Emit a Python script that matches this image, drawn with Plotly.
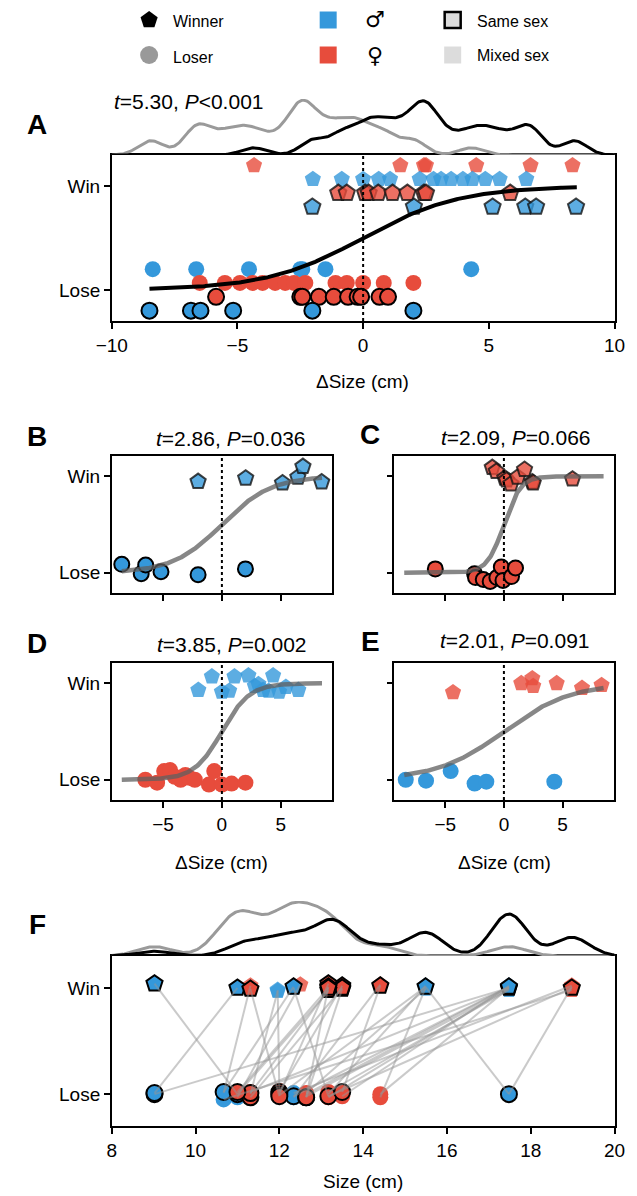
import numpy as np
import plotly.graph_objects as go

# ---------------- data ----------------
# Delta size (cm) = own size - opponent size, by contest type
ms_win = [-2.02, 2.02, 5.15, 6.45, 6.88, 8.47]            # male vs male: winners
ms_lose = [-8.5, -6.85, -6.47, -5.17, -2.02, 2.0]          # male vs male: losers
fs_win = [-0.99, -0.65, 0.08, 0.22, 0.6, 1.17, 1.76, 2.42, 2.5, 5.85]      # female vs female: winners
fs_lose = [-5.85, -2.5, -2.42, -1.76, -1.17, -0.6, -0.22, -0.08, 0.65, 0.99]  # female vs female: losers
mf_win = [-2.0, -0.85, 0.0, 0.62, 1.07, 2.25, 2.8, 3.1, 3.5, 3.97, 4.35, 4.86, 5.43, 6.49]   # male beat female (male winners)
mf_lose = [-6.5, -5.5, -4.9, -4.4, -4.0, -3.5, -3.1, -2.75, -2.3, -1.1, -0.65, 0.0, 0.82, 2.0]  # female losers to males
fm_win = [-4.34, 1.48, 2.42, 2.5, 4.5, 6.66, 8.33]         # female beat male (female winners)
fm_lose = [-8.37, -6.64, -4.54, -2.5, -2.42, -1.5, 4.3]    # male losers to females

# vertical jitter of the points in panels B-E (outcome units)
b_win_jit = [-0.055, -0.02, -0.07, -0.01, 0.10, -0.06]
b_lose_jit = [0.087, -0.01, 0.08, 0.01, -0.02, 0.04]
c_win_jit = [0.09, 0.05, -0.02, -0.04, -0.08, -0.01, 0.07, -0.06, -0.07, -0.03]
c_lose_jit = [0.04, -0.01, -0.05, -0.07, -0.09, -0.05, 0.06, -0.08, -0.04, 0.05]
d_win_jit = [-0.07, 0.07, -0.09, -0.08, 0.07, 0.08, -0.03, -0.01, -0.07, -0.08, 0.08, -0.09, -0.04, -0.07]
d_lose_jit = [0.0, -0.03, 0.09, 0.1, 0.03, 0.0, 0.05, 0.02, 0.0, -0.05, 0.09, -0.05, -0.04, -0.03]
e_win_jit = [-0.095, 0.0, 0.05, -0.03, 0.0, -0.05, -0.02]
e_lose_jit = [0.0, -0.01, 0.09, -0.04, -0.03, -0.02, -0.02]

# logistic fits: (intercept, slope) per panel
fit_params = {"A": (0.0, 0.52), "B": (0.0, 0.48), "C": (0.0, 1.4), "D": (0.0, 0.85), "E": (0.0, 0.35)}
fit_xrange = [-8.5, 8.5]

stats = {
    "A": "<i>t</i>=5.30, <i>P</i>&lt;0.001",
    "B": "<i>t</i>=2.86, <i>P</i>=0.036",
    "C": "<i>t</i>=2.09, <i>P</i>=0.066",
    "D": "<i>t</i>=3.85, <i>P</i>=0.002",
    "E": "<i>t</i>=2.01, <i>P</i>=0.091",
}

# Panel F: individual contests (winner size, loser size, sexes, same-sex?)
f_win_size = [15.49, 17.48, 11.0, 9.02, 17.48, 12.34,                                    # male vs male
              18.98, 14.41, 13.5, 13.5, 13.5, 13.17, 13.17, 13.17, 13.17, 11.31,          # female vs female
              11.96, 11.96, 12.34, 15.49, 15.49, 15.49, 15.49, 17.48, 17.48, 17.48, 17.48, 17.48, 17.48, 17.48,  # male beat female
              18.98, 18.98, 18.98, 14.41, 12.5, 11.31, 13.17]                             # female beat male
f_lose_size = [17.48, 9.02, 9.02, 11.0, 12.34, 10.67,
               13.17, 13.5, 12.64, 12.0, 11.31, 12.0, 11.31, 12.64, 11.0, 12.0,
               11.31, 12.0, 13.17, 14.41, 13.17, 12.64, 12.0, 14.41, 13.5, 13.17, 13.17, 12.64, 12.64, 11.31,
               17.48, 10.67, 12.34, 12.34, 11.0, 10.67, 11.0]
f_win_sex = ["M"] * 6 + ["F"] * 10 + ["M"] * 14 + ["F"] * 7
f_lose_sex = ["M"] * 6 + ["F"] * 10 + ["F"] * 14 + ["M"] * 7
f_same = [True] * 16 + [False] * 21
f_win_jit = [0.01, 0.0, 0.0, 0.04, 0.01, 0.01, 0.0, 0.02, -0.01, 0.02, 0.0, 0.04, -0.02, 0.01, 0.0, -0.01,
             -0.03, -0.02, 0.0, 0.0, 0.02, -0.01, 0.01, 0.0, 0.02, -0.02, 0.0, 0.01, -0.01, 0.0,
             0.01, -0.02, 0.02, 0.03, 0.03, 0.02, -0.03]
f_lose_jit = [0.0, 0.0, 0.01, 0.0, -0.02, 0.02, -0.02, 0.02, -0.03, 0.02, -0.03, 0.0, 0.01, -0.03, 0.02, -0.02,
              0.0, 0.03, -0.02, -0.03, 0.0, 0.01, -0.01, 0.0, -0.02, 0.02, -0.03, 0.0, -0.02, 0.02,
              0.0, -0.05, 0.01, -0.03, -0.03, 0.01, 0.0]

# ---------------- styling ----------------
W, H = 637, 1196
FONT = "Liberation Sans, Arial, Helvetica, sans-serif"
BLUE = "rgb(52,152,219)"
RED = "rgb(231,76,60)"
BLUE_A = "rgba(52,152,219,0.8)"
RED_A = "rgba(231,76,60,0.8)"
EDGE_P = "rgba(20,20,20,0.8)"
GRAYLINE = "rgba(95,95,95,0.75)"
row_off = {"fm": 0.2, "mf": 0.067, "fs": -0.067, "ms": -0.2}   # panel A row offsets
TICK = 19


def xdom(a, b):
    return [a / W, b / W]


def ydom(top, bot):
    return [1 - bot / H, 1 - top / H]


def kde(data, grid, bw):
    d = np.asarray(data, float)[:, None]
    return np.exp(-0.5 * ((grid[None, :] - d) / bw) ** 2).sum(0) / (len(data) * bw * np.sqrt(2 * np.pi))


def logistic(a, b, x):
    return 1.0 / (1.0 + np.exp(-(a + b * x)))


fig = go.Figure()


def add_pts(x, y, symbol, fill, edge, ew, size, xa, ya):
    fig.add_trace(go.Scatter(
        x=list(x), y=list(y), mode="markers", xaxis=xa, yaxis=ya, showlegend=False, hoverinfo="skip",
        marker=dict(symbol=symbol, size=size, color=fill,
                    line=dict(color=edge if edge else "rgba(0,0,0,0)", width=ew if edge else 0))))


def add_curve(key, xa, ya, color, width):
    a, b = fit_params[key]
    xs = np.linspace(fit_xrange[0], fit_xrange[1], 300)
    fig.add_trace(go.Scatter(x=xs, y=logistic(a, b, xs), mode="lines", xaxis=xa, yaxis=ya,
                             line=dict(color=color, width=width), showlegend=False, hoverinfo="skip"))


def at(base, vals, off):
    return [base + off for _ in vals]


def jit(base, js):
    return [base + j for j in js]


# ---------------- Panel A ----------------
add_pts(fm_lose, at(0, fm_lose, row_off["fm"]), "circle", BLUE, None, 0, 16, "x", "y")
add_pts(mf_lose, at(0, mf_lose, row_off["mf"]), "circle", RED, None, 0, 16, "x", "y")
add_pts(fs_lose, at(0, fs_lose, row_off["fs"]), "circle", RED, "black", 2, 16, "x", "y")
add_pts(ms_lose, at(0, ms_lose, row_off["ms"]), "circle", BLUE, "black", 2, 16, "x", "y")
add_pts(fm_win, at(1, fm_win, row_off["fm"]), "pentagon", RED_A, None, 0, 17, "x", "y")
add_pts(mf_win, at(1, mf_win, row_off["mf"]), "pentagon", BLUE_A, None, 0, 17, "x", "y")
add_pts(fs_win, at(1, fs_win, row_off["fs"]), "pentagon", RED_A, EDGE_P, 2, 17, "x", "y")
add_pts(ms_win, at(1, ms_win, row_off["ms"]), "pentagon", BLUE_A, EDGE_P, 2, 17, "x", "y")
add_curve("A", "x", "y", "black", 4)

# density A
all_win = ms_win + fs_win + mf_win + fm_win
all_lose = ms_lose + fs_lose + mf_lose + fm_lose
gA = np.linspace(-10, 10, 400)
dA_w = kde(all_win, gA, 0.5)
dA_l = kde(all_lose, gA, 0.5)
dA_max = max(dA_w.max(), dA_l.max())
fig.add_trace(go.Scatter(x=gA, y=dA_l, mode="lines", xaxis="x2", yaxis="y2",
                         line=dict(color="#9a9a9a", width=3), showlegend=False, hoverinfo="skip"))
fig.add_trace(go.Scatter(x=gA, y=dA_w, mode="lines", xaxis="x2", yaxis="y2",
                         line=dict(color="black", width=3), showlegend=False, hoverinfo="skip"))

# ---------------- Panels B-E ----------------
add_pts(ms_lose, jit(0, b_lose_jit), "circle", BLUE, "black", 2, 15, "x3", "y3")
add_pts(ms_win, jit(1, b_win_jit), "pentagon", BLUE_A, EDGE_P, 2, 16, "x3", "y3")
add_curve("B", "x3", "y3", GRAYLINE, 4.5)

add_pts(fs_lose, jit(0, c_lose_jit), "circle", RED, "black", 2, 15, "x4", "y4")
add_pts(fs_win, jit(1, c_win_jit), "pentagon", RED_A, EDGE_P, 2, 16, "x4", "y4")
add_curve("C", "x4", "y4", GRAYLINE, 4.5)

add_pts(mf_lose, jit(0, d_lose_jit), "circle", RED, None, 0, 16, "x5", "y5")
add_pts(mf_win, jit(1, d_win_jit), "pentagon", BLUE_A, None, 0, 17, "x5", "y5")
add_curve("D", "x5", "y5", GRAYLINE, 4.5)

add_pts(fm_lose, jit(0, e_lose_jit), "circle", BLUE, None, 0, 16, "x6", "y6")
add_pts(fm_win, jit(1, e_win_jit), "pentagon", RED_A, None, 0, 17, "x6", "y6")
add_curve("E", "x6", "y6", GRAYLINE, 4.5)

# ---------------- Panel F ----------------
col = {"M": BLUE, "F": RED}
cola = {"M": BLUE_A, "F": RED_A}
for same in (False, True):
    for sex in ("M", "F"):
        idx = [i for i in range(len(f_same)) if f_same[i] == same and f_lose_sex[i] == sex]
        if idx:
            add_pts([f_lose_size[i] for i in idx], [0 + f_lose_jit[i] for i in idx], "circle", col[sex],
                    "black" if same else None, 2, 16, "x7", "y7")
        idx = [i for i in range(len(f_same)) if f_same[i] == same and f_win_sex[i] == sex]
        if idx:
            add_pts([f_win_size[i] for i in idx], [1 + f_win_jit[i] for i in idx], "pentagon",
                    col[sex] if same else cola[sex], "black" if same else None, 2, 17, "x7", "y7")
lx, ly = [], []
for i in range(len(f_same)):
    lx += [f_win_size[i], f_lose_size[i], None]
    ly += [1 + f_win_jit[i], 0 + f_lose_jit[i], None]
fig.add_trace(go.Scatter(x=lx, y=ly, mode="lines", xaxis="x7", yaxis="y7",
                         line=dict(color="rgba(150,150,150,0.5)", width=2), showlegend=False, hoverinfo="skip"))

gF = np.linspace(8, 20, 400)
dF_w = kde(f_win_size, gF, 0.42)
dF_l = kde(f_lose_size, gF, 0.42)
dF_max = max(dF_w.max(), dF_l.max())
fig.add_trace(go.Scatter(x=gF, y=dF_l, mode="lines", xaxis="x8", yaxis="y8",
                         line=dict(color="#9a9a9a", width=3), showlegend=False, hoverinfo="skip"))
fig.add_trace(go.Scatter(x=gF, y=dF_w, mode="lines", xaxis="x8", yaxis="y8",
                         line=dict(color="black", width=3), showlegend=False, hoverinfo="skip"))

# ---------------- legend (drawn in a pixel-space axis) ----------------
leg_items = [
    (139, 20, "pentagon", "black", None, 18),
    (139, 55, "circle", "#999999", None, 18),
    (326, 20, "square", BLUE, None, 17),
    (326, 55, "square", RED, None, 17),
    (456, 20, "square", "#dcdcdc", "black", 16),
    (456, 55, "square", "#dcdcdc", None, 17),
]
for (px, py, sym, fc, ec, sz) in leg_items:
    add_pts([px], [py], sym, fc, ec, 2.5, sz, "x9", "y9")

# ---------------- axes ----------------
def frame(**kw):
    d = dict(showline=True, linecolor="black", linewidth=1.5, mirror=True, ticks="outside", ticklen=6,
             tickwidth=1.5, tickcolor="black", showgrid=False, zeroline=False,
             tickfont=dict(size=TICK, color="black", family=FONT))
    d.update(kw)
    return d


hidden = dict(visible=False, showgrid=False, zeroline=False)
dx_range = [-9.35, 9.35]
yt = dict(tickvals=[0, 1], ticktext=["Lose", "Win"])

fig.update_layout(
    width=W, height=H, margin=dict(l=0, r=0, t=0, b=0),
    paper_bgcolor="white", plot_bgcolor="rgba(0,0,0,0)",
    font=dict(family=FONT, color="black", size=TICK),
    xaxis=frame(domain=xdom(100, 625), range=[-10, 10], tickvals=[-10, -5, 0, 5, 10], anchor="y"),
    yaxis=frame(domain=ydom(155, 321), range=[-0.3, 1.3], anchor="x", **yt),
    xaxis2=dict(domain=xdom(100, 625), matches="x", anchor="y2", **hidden),
    yaxis2=dict(domain=ydom(99, 155), range=[0, dA_max * 1.02], anchor="x2", **hidden),
    xaxis3=frame(domain=xdom(100, 330), range=dx_range, tickvals=[-5, 0, 5], showticklabels=False, anchor="y3"),
    yaxis3=frame(domain=ydom(456, 593), range=[-0.21, 1.21], anchor="x3", **yt),
    xaxis4=frame(domain=xdom(395, 624), range=dx_range, tickvals=[-5, 0, 5], showticklabels=False, anchor="y4"),
    yaxis4=frame(domain=ydom(456, 593), range=[-0.21, 1.21], anchor="x4", showticklabels=False, **yt),
    xaxis5=frame(domain=xdom(100, 330), range=dx_range, tickvals=[-5, 0, 5], anchor="y5"),
    yaxis5=frame(domain=ydom(663, 800), range=[-0.21, 1.21], anchor="x5", **yt),
    xaxis6=frame(domain=xdom(395, 624), range=dx_range, tickvals=[-5, 0, 5], anchor="y6"),
    yaxis6=frame(domain=ydom(663, 800), range=[-0.21, 1.21], anchor="x6", showticklabels=False, **yt),
    xaxis7=frame(domain=xdom(100, 625), range=[8, 20], tickvals=[8, 10, 12, 14, 16, 18, 20], anchor="y7"),
    yaxis7=frame(domain=ydom(956, 1126), range=[-0.3, 1.3], anchor="x7", **yt),
    xaxis8=dict(domain=xdom(100, 625), matches="x7", anchor="y8", **hidden),
    yaxis8=dict(domain=ydom(901, 956), range=[0, dF_max * 1.02], anchor="x8", **hidden),
    xaxis9=dict(domain=[0, 1], range=[0, W], anchor="y9", **hidden),
    yaxis9=dict(domain=ydom(0, 80), range=[80, 0], anchor="x9", **hidden),
)

# dotted zero lines
for xa, ya in [("x", "y"), ("x3", "y3"), ("x4", "y4"), ("x5", "y5"), ("x6", "y6")]:
    fig.add_shape(type="line", xref=xa, yref=ya + " domain", x0=0, x1=0, y0=0, y1=1,
                  line=dict(color="black", width=2, dash="dot"), layer="above")


def ann(px, py, text, size=TICK, xanchor="center", family=FONT):
    fig.add_annotation(x=px / W, y=1 - py / H, xref="paper", yref="paper", text=text,
                       showarrow=False, xanchor=xanchor, yanchor="middle",
                       font=dict(size=size, color="black", family=family))


# panel letters
for lab, px, py in [("A", 22, 125), ("B", 22, 436), ("C", 370, 435), ("D", 22, 643), ("E", 370, 641), ("F", 22, 924)]:
    ann(px, py, "<b>%s</b>" % lab, size=28)

# stats
ann(100, 101, stats["A"], size=21, xanchor="left")
ann(225, 439, stats["B"], size=21)
ann(522, 437, stats["C"], size=21)
ann(226, 644, stats["D"], size=21)
ann(521, 640, stats["E"], size=21)

# axis titles
ann(362, 381, "ΔSize (cm)")
ann(215, 862, "ΔSize (cm)")
ann(510, 862, "ΔSize (cm)")
ann(362, 1181, "Size (cm)")

# legend labels
ann(162, 21, "Winner", size=16, xanchor="left")
ann(162, 57, "Loser", size=16, xanchor="left")
ann(375, 19, "♂", size=22, family="DejaVu Sans")
ann(375, 56, "♀", size=22, family="DejaVu Sans")
ann(479, 21, "Same sex", size=16, xanchor="left")
ann(479, 56, "Mixed sex", size=16, xanchor="left")

# remove the default page margin / scrollbars so the figure sits at the page origin
page_css = ("document.documentElement.style.overflow='hidden';"
            "document.body.style.margin='0';document.body.style.overflow='hidden';")
fig.write_html("out.html", post_script=page_css, config={"displayModeBar": False})
